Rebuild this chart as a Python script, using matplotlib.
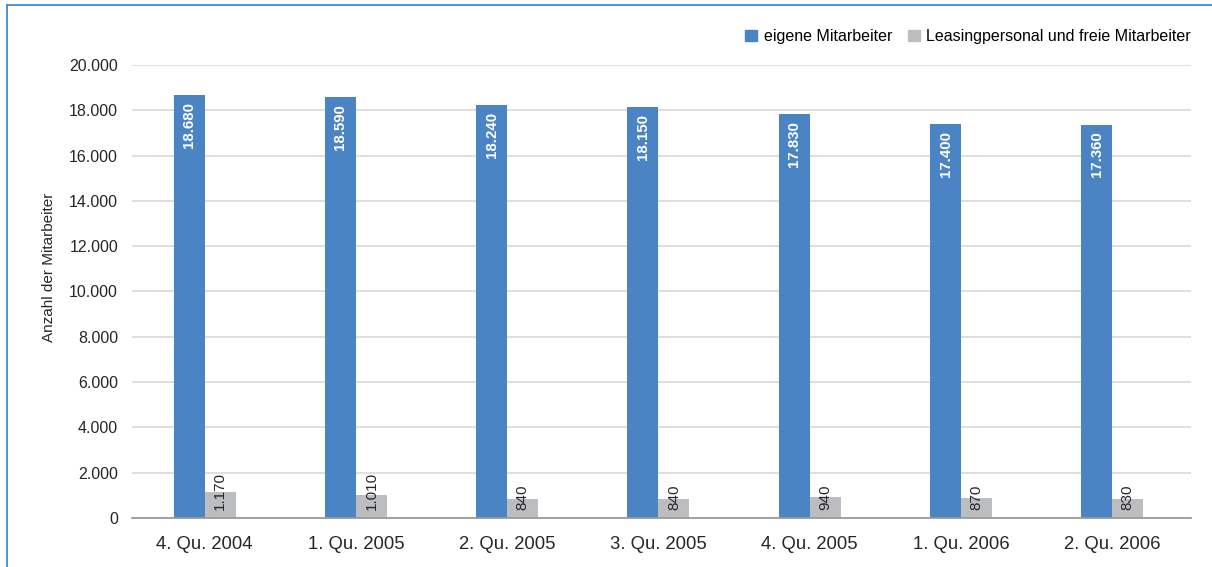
import matplotlib

matplotlib.use("Agg")
import matplotlib.pyplot as plt
from matplotlib import font_manager
from matplotlib.lines import Line2D
from matplotlib.patches import Patch
import numpy as np


QUARTERS = ["4. Qu. 2004", "1. Qu. 2005", "2. Qu. 2005", "3. Qu. 2005",
            "4. Qu. 2005", "1. Qu. 2006", "2. Qu. 2006"]
OWN_STAFF = [18680, 18590, 18240, 18150, 17830, 17400, 17360]
LEASED_STAFF = [1170, 1010, 840, 840, 940, 870, 830]
SERIES_LABELS = ["eigene Mitarbeiter", "Leasingpersonal und freie Mitarbeiter"]
Y_TICKS = [0, 2000, 4000, 6000, 8000, 10000, 12000, 14000, 16000, 18000, 20000]

BLUE = "#4a84c4"
GREY = "#bcbdc0"
TEXT = "#262626"
FRAME = "#3f8bd0"

installed = {f.name for f in font_manager.fontManager.ttflist}
REGULAR = "Liberation Sans" if "Liberation Sans" in installed else "DejaVu Sans"


def de_thousands(v: float) -> str:
    return f"{int(v):,}".replace(",", ".")


plt.rcParams["font.family"] = [REGULAR, "DejaVu Sans"]

fig = plt.figure(figsize=(12.12, 5.67), dpi=100)
ax = fig.add_axes([0.1089, 0.0864, 0.9827 - 0.1089, 0.799])

x = np.arange(len(QUARTERS), dtype=float)
width = 0.205
own = ax.bar(x - width / 2, OWN_STAFF, width, color=BLUE, zorder=3)
leased = ax.bar(x + width / 2, LEASED_STAFF, width, color=GREY, zorder=3)

for rect, val in zip(own, OWN_STAFF):
    ax.annotate(de_thousands(val), (rect.get_x() + rect.get_width() / 2, val),
                xytext=(0, -5), textcoords="offset points", rotation=90,
                ha="center", va="top", color="white", fontweight="bold",
                fontsize=10.8, zorder=4)
for rect, val in zip(leased, LEASED_STAFF):
    ax.annotate(de_thousands(val), (rect.get_x() + rect.get_width() / 2, 0),
                xytext=(0, 6), textcoords="offset points", rotation=90,
                ha="center", va="bottom", color=TEXT, fontsize=11, zorder=4)

ax.set_xlim(-0.48, len(QUARTERS) - 0.48)
ax.set_ylim(0, 20000)
ax.set_yticks(Y_TICKS)
ax.set_yticklabels([de_thousands(v) for v in Y_TICKS], fontsize=11.5, color=TEXT)
ax.set_xticks(x)
ax.set_xticklabels(QUARTERS, fontsize=13.3, color=TEXT)
ax.tick_params(axis="both", length=0)
ax.tick_params(axis="x", pad=13)
ax.tick_params(axis="y", pad=10)
ax.set_ylabel("Anzahl der Mitarbeiter", fontsize=11, color=TEXT)
ax.yaxis.set_label_coords(-0.0717, 0.554)

ax.grid(axis="y", color="#dcdcdc", linewidth=1.3, zorder=0)
for side in ("top", "right", "left"):
    ax.spines[side].set_visible(False)
ax.spines["bottom"].set_color("#9a9a9a")
ax.spines["bottom"].set_linewidth(1.3)
ax.spines["bottom"].set_zorder(5)

handles = [Patch(color=BLUE), Patch(color=GREY)]
ax.legend(handles, SERIES_LABELS, loc="lower right", bbox_to_anchor=(1.0, 1.046),
          ncol=2, frameon=False, fontsize=11.5, handlelength=0.75,
          handleheight=0.75, handletextpad=0.4, columnspacing=1.0,
          borderaxespad=0, borderpad=0)

# thin blue frame along the top and left edge
fig.add_artist(Line2D([7 / 1212, 1.0], [1 - 5 / 567, 1 - 5 / 567],
                      transform=fig.transFigure, color=FRAME, linewidth=1.3))
fig.add_artist(Line2D([7 / 1212, 7 / 1212], [0.0, 1 - 5 / 567],
                      transform=fig.transFigure, color=FRAME, linewidth=1.3))

fig.savefig("out.png", dpi=100)
